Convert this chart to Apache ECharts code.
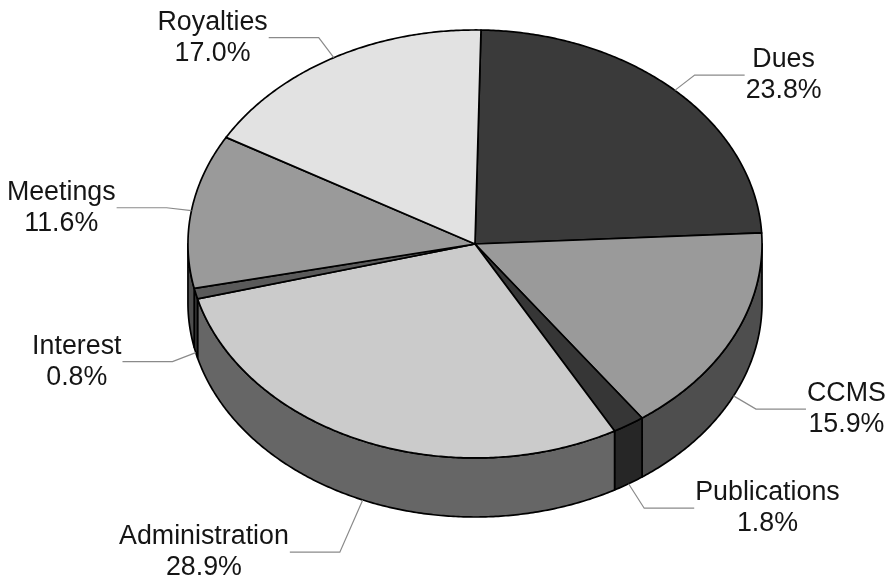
<!DOCTYPE html>
<html><head><meta charset="utf-8">
<script src="https://cdn.jsdelivr.net/npm/echarts@6/dist/echarts.min.js"></script>
<style>html,body{margin:0;padding:0;background:#fff}#main{width:887px;height:582px}</style>
</head><body><div id="main"></div>
<script>
// ---- data ----
const categories = ['Dues', 'CCMS', 'Publications', 'Administration', 'Interest', 'Meetings', 'Royalties'];
const values = [23.8, 15.9, 1.8, 28.9, 0.8, 11.6, 17.0];

// ---- styles / layout ----
const topColors  = ['#3a3a3a', '#9a9a9a', '#363636', '#cbcbcb', '#5a5a5a', '#9a9a9a', '#e2e2e2'];
const sideColors = ['#1e1e1e', '#4e4e4e', '#262626', '#666666', '#333333', '#4e4e4e', '#727272'];
const leaderLen  = [25, 26, 29, 57, 25, 25, 25];
const START_DEG = 1.2;
const FONT = '26.8px "Liberation Sans", Arial, sans-serif';
const LINE_H = 31;

const total = values.reduce((a, b) => a + b, 0);
function angles(i) {
  let cum = 0;
  for (let k = 0; k < i; k++) cum += values[k];
  const a0 = START_DEG + 360 * cum / total;
  const a1 = START_DEG + 360 * (cum + values[i]) / total;
  return [a0, a1];
}
function geom(api) {
  const W = api.getWidth(), H = api.getHeight();
  return { cx: W * 0.5355, cy: H * 0.4192, rx: W * 0.3236, ry: H * 0.3677, d: H * 0.1014 };
}
function pt(g, deg, yOff) {
  const r = deg * Math.PI / 180;
  return [g.cx + g.rx * Math.sin(r), g.cy - g.ry * Math.cos(r) + yOff];
}
function arc(g, a0, a1, yOff) {
  const n = Math.max(2, Math.ceil(Math.abs(a1 - a0) / 0.5));
  const pts = [];
  for (let k = 0; k <= n; k++) pts.push(pt(g, a0 + (a1 - a0) * k / n, yOff));
  return pts;
}
const measureCtx = document.createElement('canvas').getContext('2d');
measureCtx.font = FONT;
function textW(s) { return measureCtx.measureText(s).width; }

const seriesData = values.map((v, i) => ({ name: categories[i], value: v }));

function renderSide(params, api) {
  const g = geom(api);
  const i = params.dataIndex;
  const [a0, a1] = angles(i);
  const s0 = Math.max(a0, 90), s1 = Math.min(a1, 270);
  if (s1 <= s0) return { type: 'group', children: [] };
  const top = arc(g, s0, s1, 0);
  const bot = arc(g, s1, s0, g.d);
  return {
    type: 'polygon',
    shape: { points: top.concat(bot) },
    style: { fill: sideColors[i], stroke: '#000', lineWidth: 1.7, lineJoin: 'round' }
  };
}
function renderTop(params, api) {
  const g = geom(api);
  const i = params.dataIndex;
  const [a0, a1] = angles(i);
  const pts = [[g.cx, g.cy]].concat(arc(g, a0, a1, 0));
  return {
    type: 'polygon',
    shape: { points: pts },
    style: { fill: topColors[i], stroke: '#000', lineWidth: 1.7, lineJoin: 'round' }
  };
}
function renderLabel(params, api) {
  const g = geom(api);
  const i = params.dataIndex;
  const [a0, a1] = angles(i);
  const mid = (a0 + a1) / 2;
  const front = Math.cos(mid * Math.PI / 180) < 0;
  const anchor = pt(g, mid, front ? g.d : 0);
  let dx = anchor[0] - g.cx, dy = anchor[1] - g.cy;
  const len = Math.hypot(dx, dy); dx /= len; dy /= len;
  const elbow = [anchor[0] + dx * leaderLen[i], anchor[1] + dy * leaderLen[i]];
  const side = dx >= 0 ? 1 : -1;
  const end = [elbow[0] + side * 50, elbow[1]];
  const l1 = categories[i], l2 = values[i].toFixed(1) + '%';
  const w = Math.max(textW(l1), textW(l2));
  const tx = end[0] + side * (w / 2 + 1);
  return {
    type: 'group',
    children: [
      { type: 'polyline', shape: { points: [anchor, elbow, end] },
        style: { stroke: '#8a8a8a', lineWidth: 1.2, fill: null } },
      { type: 'text',
        style: { text: l1 + '\n' + l2, x: tx, y: elbow[1], font: FONT, fill: '#151515',
                 align: 'center', verticalAlign: 'middle', lineHeight: LINE_H } }
    ]
  };
}

const chart = echarts.init(document.getElementById('main'), null, { renderer: 'canvas' });
chart.setOption({
  backgroundColor: '#ffffff',
  animation: false,
  series: [
    { type: 'custom', coordinateSystem: 'none', z: 1, data: seriesData, renderItem: renderSide, silent: true },
    { type: 'custom', coordinateSystem: 'none', z: 2, data: seriesData, renderItem: renderTop, silent: true },
    { type: 'custom', coordinateSystem: 'none', z: 3, data: seriesData, renderItem: renderLabel, silent: true }
  ]
});
</script>
</body></html>
